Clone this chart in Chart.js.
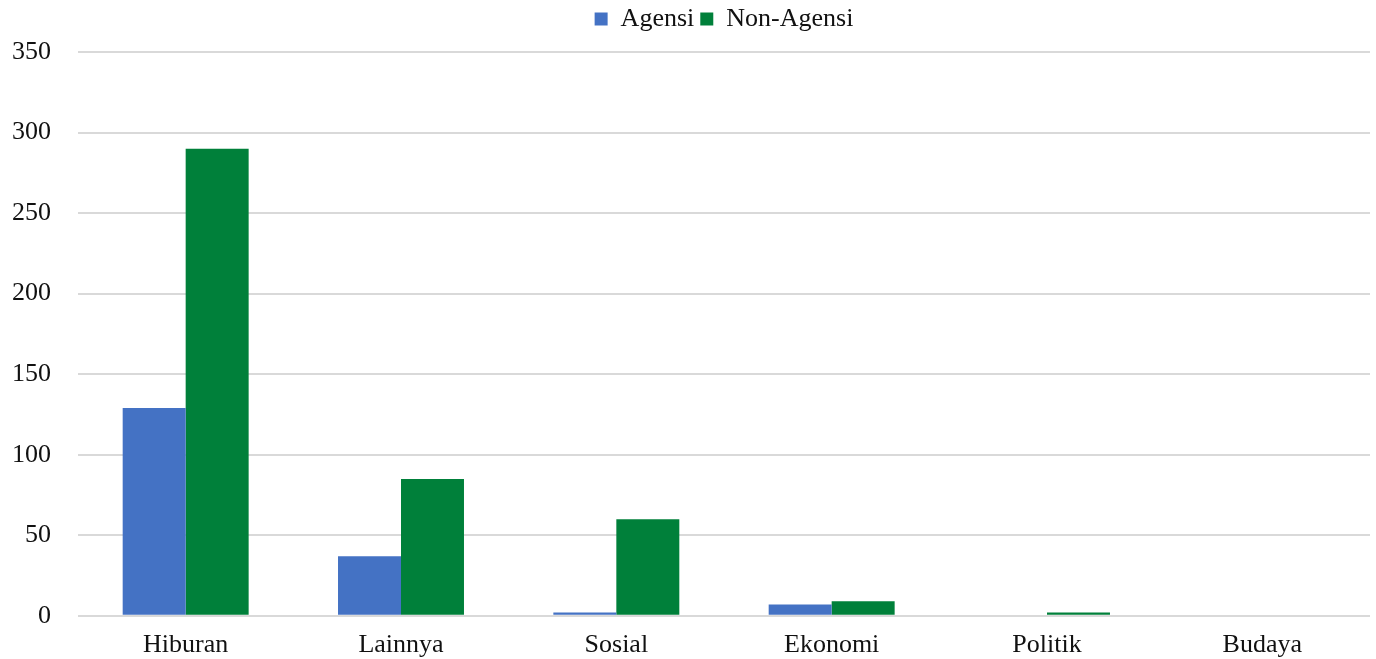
<!DOCTYPE html>
<html>
<head>
<meta charset="utf-8">
<script src="https://cdn.jsdelivr.net/npm/chart.js@4"></script>
<style>
  html, body { margin: 0; padding: 0; background: #ffffff; }
  #wrap { width: 1376px; height: 659px; position: relative; }
</style>
</head>
<body>
<div id="wrap"><canvas id="chart"></canvas></div>
<script>
// Data
const categories = ['Hiburan', 'Lainnya', 'Sosial', 'Ekonomi', 'Politik', 'Budaya'];
const agensi = [129, 37, 2, 7, 0, 0];
const nonAgensi = [290, 85, 60, 9, 2, 0];
const seriesNames = ['Agensi', 'Non-Agensi'];

const fontFamily = '"Liberation Serif", "DejaVu Serif", serif';

// extra room under the legend
const legendGap = {
    id: 'legendGap',
    beforeInit(chart) {
        const fit = chart.legend.fit;
        chart.legend.fit = function () {
            fit.bind(chart.legend)();
            this.height += 10;
        };
    }
};

const ctx = document.getElementById('chart').getContext('2d');
new Chart(ctx, {
    type: 'bar',
    data: {
        labels: categories,
        datasets: [
            {
                label: seriesNames[0],
                data: agensi,
                backgroundColor: '#4472c4',
                categoryPercentage: 0.585,
                barPercentage: 1
            },
            {
                label: seriesNames[1],
                data: nonAgensi,
                backgroundColor: '#00803a',
                categoryPercentage: 0.585,
                barPercentage: 1
            }
        ]
    },
    options: {
        responsive: true,
        maintainAspectRatio: false,
        animation: false,
        layout: { padding: { left: 12, right: 6, top: 0, bottom: -8 } },
        scales: {
            x: {
                grid: { display: false },
                border: { display: false },
                ticks: {
                    color: '#111',
                    font: { family: fontFamily, size: 26 },
                    padding: 6
                }
            },
            y: {
                min: 0,
                max: 350,
                afterFit(scale) { scale.width = 66; },
                ticks: {
                    stepSize: 50,
                    color: '#111',
                    font: { family: fontFamily, size: 26 },
                    padding: 27
                },
                grid: { color: '#d9d9d9', lineWidth: 2, drawTicks: false },
                border: { display: false }
            }
        },
        plugins: {
            legend: {
                position: 'top',
                fullSize: false,
                labels: {
                    color: '#111',
                    font: { family: fontFamily, size: 26 },
                    boxWidth: 13,
                    boxHeight: 13,
                    padding: 6
                }
            },
            tooltip: { enabled: false }
        }
    },
    plugins: [legendGap]
});
</script>
</body>
</html>
